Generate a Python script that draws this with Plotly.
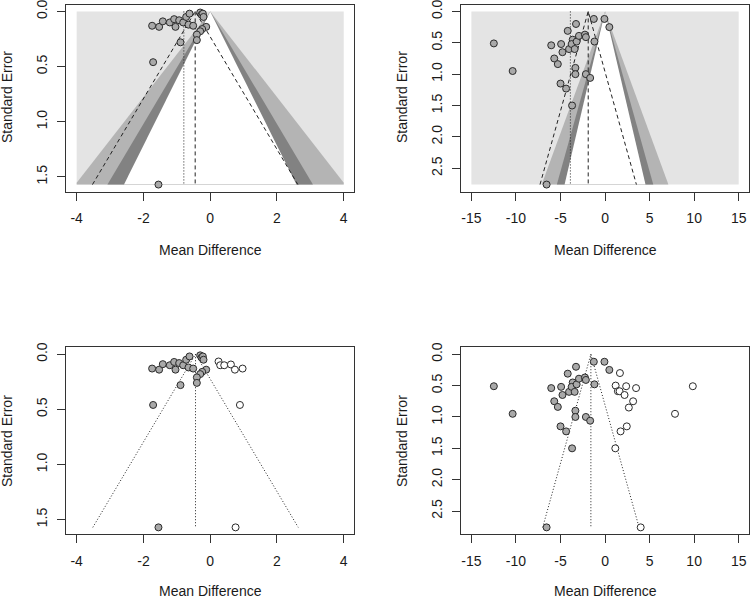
import plotly.graph_objects as go

# ---------------- data ----------------
# Panel A (left column): mean difference and standard error of observed studies
md_a = [-1.74, -1.53, -1.42, -1.21, -1.08, -1.04, -0.93, -0.81, -0.72, -0.62,
        -0.65, -0.51, -0.89, -1.71, -1.55, -0.30, -0.26, -0.22, -0.20, -0.12,
        -0.24, -0.30, -0.40, -0.40]
se_a = [0.13, 0.14, 0.09, 0.10, 0.07, 0.14, 0.08, 0.10, 0.05, 0.02,
        0.12, 0.13, 0.28, 0.46, 1.57, 0.01, 0.03, 0.02, 0.05, 0.14,
        0.16, 0.18, 0.21, 0.26]
# imputed (trim-and-fill) studies, panel A
md_a_fill = [0.25, 0.30, 0.42, 0.62, 0.74, 0.97, 0.89, 0.76]
se_a_fill = [0.066, 0.10, 0.10, 0.093, 0.14, 0.13, 0.46, 1.57]

# Panel B (right column)
md_b = [-12.48, -10.37, -6.04, -5.70, -5.30, -4.93, -4.78, -5.00, -4.37, -4.19,
        -4.04, -3.70, -3.63, -3.75, -3.41, -3.33, -3.33, -3.26, -3.19, -2.93,
        -2.26, -2.15, -2.15, -1.67, -1.26, -1.19, -0.07, 0.48, -6.56]
se_b = [0.51, 0.95, 0.54, 0.75, 0.84, 0.52, 0.65, 1.15, 1.23, 0.31,
        0.60, 1.50, 0.45, 0.52, 0.60, 0.90, 1.00, 0.20, 0.48, 0.39,
        0.37, 0.41, 1.00, 1.06, 0.12, 0.48, 0.12, 0.25, 2.76]
md_b_fill = [1.67, 1.19, 2.37, 3.48, 1.44, 1.63, 2.19, 3.15, 2.67, 7.85,
             9.85, 2.44, 1.74, 1.15, 4.00]
se_b_fill = [0.30, 0.50, 0.51, 0.54, 0.59, 0.59, 0.65, 0.75, 0.85, 0.95,
             0.51, 1.15, 1.23, 1.50, 2.76]

# summary estimates
est_a_fixed = -0.45   # dashed line, top-left
est_a_orig = -0.79    # dotted line, top-left
est_a_adj = -0.44     # bottom-left centre
est_b_fixed = -1.89
est_b_orig = -3.89
est_b_adj = -1.59

# contour levels (z for p = .10, .05, .01) and shades
z_levels = [2.576, 1.96, 1.645]
z_shades = ["#b4b4b4", "#828282", "#ffffff"]
back_shade = "#e4e4e4"

xlim_a = 4
xlim_b = 15
xticks_a = [-4, -2, 0, 2, 4]
xticks_b = [-15, -10, -5, 0, 5, 10, 15]
yticks_a = [0.0, 0.5, 1.0, 1.5]
yticks_b = [0.0, 0.5, 1.0, 1.5, 2.0, 2.5]

FONT = "Liberation Sans, Arial, sans-serif"
LINE = "#333333"

fig = go.Figure()


def add_contours(xa, ya, xlim, m):
    fig.add_trace(go.Scatter(x=[-xlim, xlim, xlim, -xlim, -xlim], y=[0, 0, m, m, 0],
                             fill="toself", fillcolor=back_shade, mode="lines",
                             line=dict(width=0), hoverinfo="skip", xaxis=xa, yaxis=ya))
    for z, col in zip(z_levels, z_shades):
        if z * m <= xlim:
            xs = [0, -z * m, z * m, 0]
            ys = [0, m, m, 0]
        else:
            yc = xlim / z
            xs = [0, -xlim, -xlim, xlim, xlim, 0]
            ys = [0, yc, m, m, yc, 0]
        fig.add_trace(go.Scatter(x=xs, y=ys, fill="toself", fillcolor=col, mode="lines",
                                 line=dict(width=0), hoverinfo="skip", xaxis=xa, yaxis=ya))


def add_funnel(xa, ya, est, m, dash):
    fig.add_trace(go.Scatter(x=[est - 1.96 * m, est, est + 1.96 * m], y=[m, 0, m],
                             mode="lines", line=dict(color="#222222", width=1, dash=dash),
                             hoverinfo="skip", xaxis=xa, yaxis=ya))


def add_vline(xa, ya, est, m, dash):
    fig.add_trace(go.Scatter(x=[est, est], y=[0, m], mode="lines",
                             line=dict(color="#222222", width=1, dash=dash),
                             hoverinfo="skip", xaxis=xa, yaxis=ya))


def add_points(xa, ya, xs, ys, fill):
    fig.add_trace(go.Scatter(x=xs, y=ys, mode="markers",
                             marker=dict(size=7, color=fill, line=dict(color="#2a2a2a", width=1)),
                             xaxis=xa, yaxis=ya))


DASH = "4px,3px"
DOT = "1px,2px"

m_a = max(se_a + se_a_fill)
m_b = max(se_b + se_b_fill)

# top-left
add_contours("x", "y", xlim_a, m_a)
add_vline("x", "y", est_a_orig, m_a, DOT)
add_vline("x", "y", est_a_fixed, m_a, DASH)
add_funnel("x", "y", est_a_fixed, m_a, DASH)
add_points("x", "y", md_a, se_a, "#a9a9a9")

# top-right
add_contours("x2", "y2", xlim_b, m_b)
add_vline("x2", "y2", est_b_orig, m_b, DOT)
add_vline("x2", "y2", est_b_fixed, m_b, DASH)
add_funnel("x2", "y2", est_b_fixed, m_b, DASH)
add_points("x2", "y2", md_b, se_b, "#a9a9a9")

# bottom-left
add_vline("x3", "y3", est_a_adj, m_a, DOT)
add_funnel("x3", "y3", est_a_adj, m_a, DOT)
add_points("x3", "y3", md_a, se_a, "#a9a9a9")
add_points("x3", "y3", md_a_fill, se_a_fill, "#ffffff")

# bottom-right
add_vline("x4", "y4", est_b_adj, m_b, DOT)
add_funnel("x4", "y4", est_b_adj, m_b, DOT)
add_points("x4", "y4", md_b, se_b, "#a9a9a9")
add_points("x4", "y4", md_b_fill, se_b_fill, "#ffffff")

W, H = 750, 599


def xdom(l, r):
    return [l / W, r / W]


def ydom(t, b):
    return [1 - b / H, 1 - t / H]


def xaxis(dom, lim, ticks, anchor):
    pad = 0.04 * (2 * lim)
    return dict(domain=dom, range=[-lim - pad, lim + pad], anchor=anchor, automargin=False,
                showline=True, mirror=True, linecolor=LINE, linewidth=1,
                ticks="outside", ticklen=8, tickcolor=LINE, tickwidth=1,
                tickvals=ticks, ticktext=[str(t) for t in ticks],
                ticklabelstandoff=6, ticklabeloverflow="allow",
                tickfont=dict(family=FONT, size=14, color="#1a1a1a"),
                showgrid=False, zeroline=False, fixedrange=True)


def yaxis(dom, m, ticks, anchor):
    pad = 0.04 * m
    return dict(domain=dom, range=[m + pad, -pad], anchor=anchor, automargin=False,
                showline=True, mirror=True, linecolor=LINE, linewidth=1,
                ticks="outside", ticklen=8, tickcolor=LINE, tickwidth=1,
                tickvals=ticks, ticktext=["%.1f" % t for t in ticks], tickangle=-90,
                ticklabelstandoff=4, ticklabeloverflow="allow",
                tickfont=dict(family=FONT, size=14, color="#1a1a1a"),
                showgrid=False, zeroline=False, fixedrange=True)


xl = xdom(66, 354.4)
xr = xdom(460.7, 749.4)
yt = ydom(4.5, 191.5)
yb = ydom(347.3, 534.3)

layout = dict(
    width=W, height=H, margin=dict(l=0, r=0, t=0, b=0, autoexpand=False),
    paper_bgcolor="white", plot_bgcolor="white", showlegend=False,
    xaxis=xaxis(xl, xlim_a, xticks_a, "y"),
    yaxis=yaxis(yt, m_a, yticks_a, "x"),
    xaxis2=xaxis(xr, xlim_b, xticks_b, "y2"),
    yaxis2=yaxis(yt, m_b, yticks_b, "x2"),
    xaxis3=xaxis(xl, xlim_a, xticks_a, "y3"),
    yaxis3=yaxis(yb, m_a, yticks_a, "x3"),
    xaxis4=xaxis(xr, xlim_b, xticks_b, "y4"),
    yaxis4=yaxis(yb, m_b, yticks_b, "x4"),
)
fig.update_layout(**layout)

annots = []
for cx, cy in [(210, 250), (605, 250), (210, 591), (605, 591)]:
    annots.append(dict(text="Mean Difference", x=cx / W, y=1 - cy / H, xref="paper", yref="paper",
                       showarrow=False, xanchor="center", yanchor="middle",
                       font=dict(family=FONT, size=14, color="#1a1a1a")))
for cx, cy in [(7, 97), (402, 97), (7, 441), (402, 441)]:
    annots.append(dict(text="Standard Error", x=cx / W, y=1 - cy / H, xref="paper", yref="paper",
                       showarrow=False, xanchor="center", yanchor="middle", textangle=-90,
                       font=dict(family=FONT, size=14, color="#1a1a1a")))
fig.update_layout(annotations=annots)

fig.write_html("out.html", config={"displayModeBar": False},
               post_script="document.body.style.margin='0';document.body.style.overflow='hidden';")
